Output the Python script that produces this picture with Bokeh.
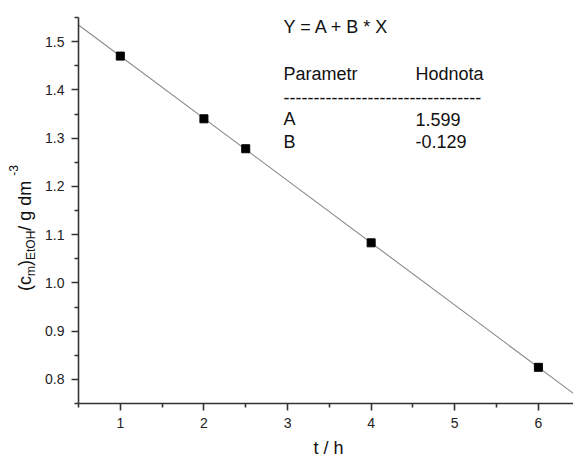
import math
from bokeh.plotting import figure
from bokeh.layouts import row, column
from bokeh.models import Range1d, FixedTicker, Label, ColumnDataSource
from bokeh.embed import file_html
from bokeh.resources import INLINE

# ---- data ----
t_h = [1.0, 2.0, 2.5, 4.0, 6.0]
c_etoh = [1.470, 1.340, 1.278, 1.083, 0.825]
param_names = ["A", "B"]
param_values = [1.599, -0.129]
x_ticks = [1, 2, 3, 4, 5, 6]
x_minor = [0.5, 1.5, 2.5, 3.5, 4.5, 5.5]
y_ticks = [0.8, 0.9, 1.0, 1.1, 1.2, 1.3, 1.4, 1.5]
y_minor = [0.75, 0.85, 0.95, 1.05, 1.15, 1.25, 1.35, 1.45, 1.55]

# ---- layout (page px) ----
X0, X1 = 0.5, 6.42
Y0, Y1 = 0.75, 1.55
FONT = "Liberation Sans"
W, H = 573, 457
LW = 40          # left strip: y-axis title
BH = 21          # bottom strip: x-axis title
L, R, T, B = 78, 573, 17, 403   # frame edges
BASE_FIX = 7     # alphabetic-baseline correction observed for Label


def blank(width, height, xr, yr, left_border=0):
    f = figure(width=width, height=height, output_backend="svg",
               toolbar_location=None, x_range=Range1d(*xr), y_range=Range1d(*yr),
               x_axis_type=None, y_axis_type=None, min_border=0,
               min_border_left=left_border)
    f.outline_line_color = None
    f.xgrid.visible = False
    f.ygrid.visible = False
    return f


# ---- main plot ----
p = figure(width=W - LW, height=H - BH, output_backend="svg", toolbar_location=None,
           x_range=Range1d(X0, X1), y_range=Range1d(Y0, Y1),
           min_border_left=L - LW, min_border_right=W - R, min_border_top=T,
           min_border_bottom=H - BH - B)
p.outline_line_color = None
p.xgrid.visible = False
p.ygrid.visible = False

for ax, maj, mnr in ((p.xaxis[0], x_ticks, x_minor), (p.yaxis[0], y_ticks, y_minor)):
    ax.ticker = FixedTicker(ticks=maj, minor_ticks=mnr)
    ax.axis_line_color = "#333333"
    ax.axis_line_width = 1.6
    ax.major_tick_line_color = "#333333"
    ax.major_tick_line_width = 1.6
    ax.minor_tick_line_color = "#333333"
    ax.minor_tick_line_width = 1.6
    ax.major_tick_in = 0
    ax.major_tick_out = 7
    ax.minor_tick_in = 0
    ax.minor_tick_out = 4
    ax.major_label_text_font = FONT
    ax.major_label_text_font_size = "14px"
    ax.major_label_text_color = "#222222"
    ax.major_label_standoff = 7

p.xaxis[0].major_label_overrides = {t: str(t) for t in x_ticks}
p.yaxis[0].major_label_overrides = {t: f"{t:.1f}" for t in y_ticks}

A, Bc = param_values
xs_line = [X0, X1 + 0.2]
ys_line = [A + Bc * x for x in xs_line]
p.line(xs_line, ys_line, line_color="#8a8a8a", line_width=1.1)

src = ColumnDataSource(dict(x=t_h, y=c_etoh))
p.scatter("x", "y", source=src, marker="square", size=8,
          fill_color="black", line_color="black")


def add_text(fig, txt, x, y, size=18, align="left", angle=0.0, units="screen",
             baseline="alphabetic"):
    fig.add_layout(Label(x=x, y=y, x_units=units, y_units=units,
                         text=txt, text_font=FONT,
                         text_font_size=f"{size}px", text_align=align,
                         text_baseline=baseline, angle=angle,
                         text_color="#111111"))


def main_text(txt, px, py, **kw):
    add_text(p, txt, px - L, B - (py - BASE_FIX), **kw)


main_text("Y = A + B * X", 283, 33)
main_text("Parametr", 283, 80)
main_text("Hodnota", 415, 80)
main_text("-" * 33, 283, 103.5)
for i, (n, v) in enumerate(zip(param_names, param_values)):
    main_text(n, 283, 125.5 + 22.5 * i)
    main_text(f"{v:.3f}", 415, 125.5 + 22.5 * i)

# ---- left strip: y-axis title (x = page px, y = H - page px) ----
left = blank(LW, H, (0, LW), (0, H))
WID = {"(": .333, ")": .333, "c": .5, "m": .833, "E": .667, "t": .278, "O": .778,
       "H": .722, " ": .278, "/": .278, "g": .556, "d": .556, "-": .333, "3": .556}
pieces = [("(c", 18, 31), ("m", 12, 35), (")", 18, 31), ("EtOH", 12, 35),
          (" / g dm", 18, 31), ("-3", 12, 17)]
total = sum(sum(WID[c] for c in s) * sz for s, sz, _ in pieces)
ypos = 227.5 + total / 2
for s, sz, bx in pieces:
    w = sum(WID[c] for c in s) * sz
    add_text(left, s, bx - 0.3465 * sz, H - (ypos - w / 2), size=sz,
             angle=math.pi / 2, units="data", align="center", baseline="middle")
    ypos -= w

# ---- bottom strip: x-axis title ----
bottom = blank(W - LW, BH, (L, W), (0, BH), left_border=L - LW)
add_text(bottom, "t / h", 328, H - (454 - BASE_FIX), align="center", units="data")

layout = row(left, column(p, bottom))
open("out.html", "w").write(file_html(layout, INLINE))
